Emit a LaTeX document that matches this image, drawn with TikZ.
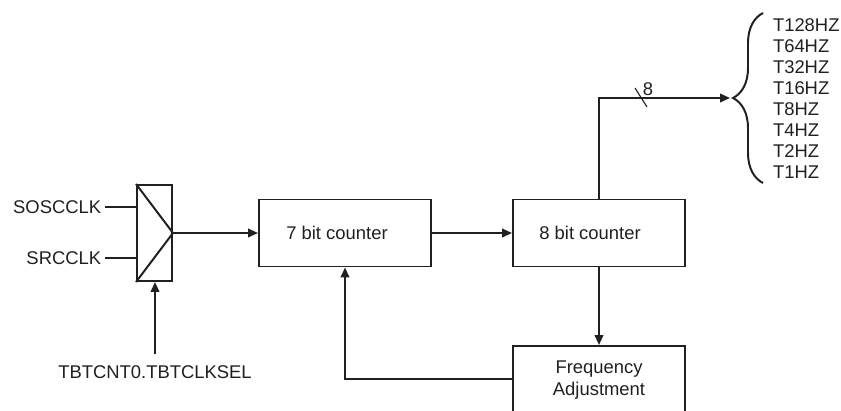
\documentclass[tikz,border=0pt]{standalone}
\usepackage{fontspec}
\setmainfont{Liberation Sans}
\usetikzlibrary{arrows.meta,calc,positioning,decorations.pathreplacing}
\definecolor{ink}{RGB}{35,31,32}

\begin{document}
\begin{tikzpicture}[>={Triangle[length=7pt,width=6pt]}, scale=1.0,
    color=ink, line width=1.4pt,
    blk/.style={draw, minimum width=4.3cm, minimum height=1.675cm, inner sep=0pt},
    lbl/.style={font=\fontsize{13.1}{15.6}\selectfont, inner sep=2pt}]
    \useasboundingbox (0,0) rectangle (21.025,10.25);
    \clip (0,0) rectangle (21.025,10.25);
    % clock select
    \node[draw, minimum width=0.875cm, minimum height=2.4cm, inner sep=0pt] (mux) at (3.8625,4.425) {};
    \draw (mux.north west) -- (mux.east) -- (mux.south west);
    \node[lbl, anchor=east] (sosc) at (2.625,5.075) {SOSCCLK};
    \node[lbl, anchor=east] (src) at (2.625,3.8) {SRCCLK};
    \draw (sosc.east) -- (sosc.east -| mux.west);
    \draw (src.east) -- (src.east -| mux.west);
    \node[lbl] (sel) at (3.875,0.95) {TBTCNT0.TBTCLKSEL};
    \draw[->] ([yshift=0.2cm]sel.north) -- (sel.north |- mux.south);
    % the two counters, and the adjustment under them
    \node[blk] (cnt7) at (8.625,4.425) {};
    \node[lbl] (cnt7txt) at (8.425,4.425) {7 bit counter};
    \node[blk] (cnt8) at (14.975,4.425) {};
    \node[lbl] (cnt8txt) at (14.75,4.425) {8 bit counter};
    \node[blk, minimum height=2cm] (freq) at (14.975,0.6) {};
    \node[lbl, align=center] (freqtxt) at (14.975,0.74) {Frequency\\Adjustment};
    \draw[->] (mux.east) -- (cnt7.west);
    \draw[->] (cnt7.east) -- (cnt8.west);
    \draw[->] (cnt8.south) -- (freq.north);
    \draw[->] ([yshift=0.175cm]freq.west) -| (cnt7.south);
    % 8 bit bus out to the tap names
    \coordinate (tap) at (18.25,7.8);
    \draw[->] (cnt8.north) |- (tap);
    \draw[line width=0.8pt] (15.875,8.05) -- (16.175,7.575);
    \node[lbl] (busw) at (16.2,8.025) {8};
    \draw[decorate, decoration={brace, amplitude=0.75cm}] (19.075,5.675) -- (19.075,9.925);
    \foreach \f [count=\i from 0] in {128,64,32,16,8,4,2,1}
      \node[lbl, anchor=west] (hz\f) at (19.23,{9.625-0.525*\i}) {T\f HZ};
  \end{tikzpicture}
\end{document}
